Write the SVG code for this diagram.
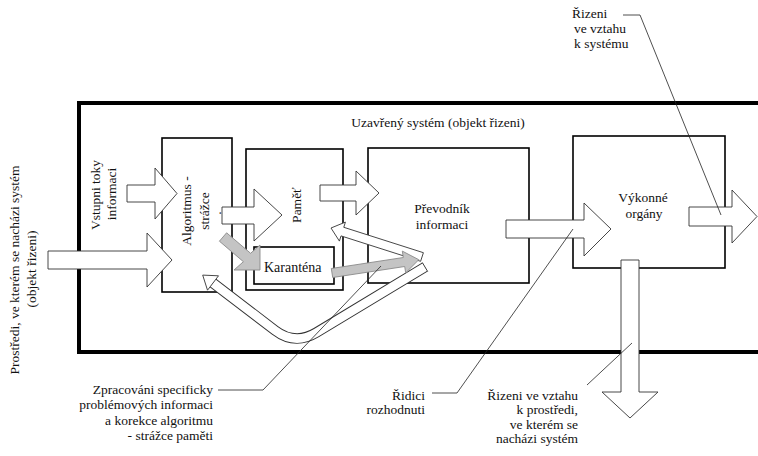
<svg xmlns="http://www.w3.org/2000/svg" width="758" height="456" viewBox="0 0 758 456">
<style>
text{font-family:"Liberation Serif","Times New Roman",serif;font-size:13.5px;fill:#111}
.box{fill:#fff;stroke:#000;stroke-width:1.6}
.frame{fill:none;stroke:#000;stroke-width:4}
.arr{fill:#fff;stroke:#333;stroke-width:0.9}
.grey{fill:#c4c4c4;stroke:#8a8a8a;stroke-width:0.9}
.lead{fill:none;stroke:#222;stroke-width:0.8}
.m{text-anchor:middle}
.e{text-anchor:end}
</style>
<rect width="758" height="456" fill="#fff"/>
<g id="frame">
<path class="frame" d="M762,103 H79 V352 H762"/>
<text class="m" x="438" y="127">Uzavřený systém (objekt řizeni)</text>
</g>
<g id="algoritmus">
<rect class="box" x="162" y="138" width="70" height="154"/>
<text class="m" transform="translate(191,211) rotate(-90)">Algoritmus -</text>
<text class="m" transform="translate(209,211) rotate(-90)">strážce</text>
<text class="m" transform="translate(221,213) rotate(-90)">.</text>
</g>
<g id="pamet">
<rect class="box" x="246" y="149" width="97" height="141"/>
<text class="m" transform="translate(301,205) rotate(-90)">Paměť</text>
</g>
<g id="karantena">
<rect class="box" x="254" y="247" width="80" height="37"/>
<text x="264" y="272" style="font-size:14px">Karanténa</text>
</g>
<g id="prevodnik">
<rect class="box" x="368" y="148" width="161" height="135"/>
<text class="m" x="442" y="213">Převodník</text>
<text class="m" x="442" y="229">informaci</text>
</g>
<g id="vykonne">
<rect class="box" x="573" y="136" width="152" height="132"/>
<text class="m" x="643" y="202">Výkonné</text>
<text class="m" x="644" y="218">orgány</text>
</g>
<g id="connectors">
<polygon class="arr" points="48,251 147,251 147,233 172,260 147,287 147,269 48,269"/>
<polygon class="arr" points="127,185 155,185 155,168 177,193.5 155,219 155,202 127,202"/>
<polygon class="arr" points="222,207 254,207 254,189 282,215 254,241 254,224 222,224"/>
<polygon class="arr" points="320,185 356,185 356,171 379,193 356,215 356,201 320,201"/>
<polygon class="arr" points="506,220 584,220 584,203 611,229 584,256 584,238 506,238"/>
<polygon class="arr" points="689,207 732,207 732,190 757,216.5 732,243 732,226 689,226"/>
<polygon class="arr" points="621,260 639,260 639,392 658,392 630,418 602,392 621,392"/>
<path d="M213,283 L275,330.3 Q295,345.5 316.4,332.6 L425,267" fill="none" stroke="#333" stroke-width="10.5"/>
<path d="M213,283 L275,330.3 Q295,345.5 316.4,332.6 L425,267" fill="none" stroke="#fff" stroke-width="8.6"/>
<line class="lead" x1="427.7" y1="271.5" x2="422.3" y2="262.5" style="stroke:#333;stroke-width:0.9"/>
<polygon class="arr" points="218.5,275.8 202.7,275.1 207.5,290.2"/>
<polygon class="arr" points="423.4,252.7 343.8,227.3 345.4,222.1 331,228 339.4,241.1 341,235.9 420.6,261.3"/>
<polygon class="grey" points="226.6,232.8 250.6,253.3 260,245 260,270 234,270 243.4,261.7 219.4,241.2"/>
<polygon class="grey" points="331.3,268.5 403.3,257.5 402.3,251.1 418.8,259.7 405.7,272.9 404.7,266.5 332.7,277.5"/>
<path class="lead" d="M623,15 H640 L721,215"/>
<path class="lead" d="M432,393 H457 L573,229"/>
<path class="lead" d="M218,390 H263 L381,266"/>
<path class="lead" d="M587,385 L632,343"/>
</g>
<g id="labels">
<text class="m" transform="translate(100,195) rotate(-90)">Vstupni toky</text>
<text class="m" transform="translate(116,194) rotate(-90)">informaci</text>
<text class="m" transform="translate(19,270) rotate(-90)">Prostředi, ve kterém se nacházi systém</text>
<text class="m" transform="translate(36,269) rotate(-90)">(objekt řizeni)</text>
<text x="572" y="18">Řizeni</text>
<text x="574" y="33">ve vztahu</text>
<text x="574" y="48">k systému</text>
<text class="e" x="425" y="400">Řidici</text>
<text class="e" x="425" y="414">rozhodnuti</text>
<text class="e" x="578" y="400">Řizeni ve vztahu</text>
<text class="e" x="578" y="414">k prostředi,</text>
<text class="e" x="578" y="429">ve kterém se</text>
<text class="e" x="578" y="443">nacházi systém</text>
<text class="e" x="213" y="394">Zpracováni specificky</text>
<text class="e" x="213" y="409">problémových informaci</text>
<text class="e" x="213" y="425">a korekce algoritmu</text>
<text class="e" x="213" y="440">- strážce paměti</text>
</g>
</svg>
